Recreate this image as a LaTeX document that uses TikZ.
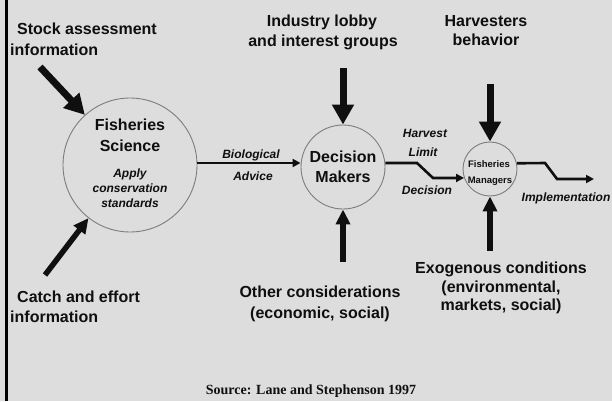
\documentclass[tikz,border=0pt]{standalone}
\usepackage{fontspec}
\setmainfont{Liberation Sans}
\newfontfamily\srcfont{Liberation Serif}
\usetikzlibrary{arrows.meta}
\definecolor{bg}{RGB}{221,221,221}
\definecolor{ringc}{RGB}{125,125,125}
\definecolor{ink}{RGB}{15,15,15}
\begin{document}
\begin{tikzpicture}[x=1pt,y=-1pt,
  ring/.style={circle, draw=ringc, line width=0.9pt, fill=bg, inner sep=0pt},
  lbl/.style={font=\bfseries\fontsize{16}{19}\selectfont, text=ink, inner sep=0pt, anchor=base},
  lblw/.style={lbl, anchor=base west},
  ilbl/.style={font=\bfseries\itshape\fontsize{12}{14}\selectfont, text=ink, inner sep=0pt, anchor=base},
  slbl/.style={font=\bfseries\fontsize{9.5}{11}\selectfont, text=ink, inner sep=0pt, anchor=base},
  bigarrow/.style={draw=ink, line width=7pt, -{Triangle[length=20pt,width=21pt]}},
  midarrow/.style={draw=ink, line width=5.5pt, -{Triangle[length=15pt,width=14pt]}},
  thinarrow/.style={draw=ink, line width=2.6pt, line join=miter, -{Triangle[length=8pt,width=8pt]}}
]
\fill[bg] (0,0) rectangle (612,401);
\useasboundingbox (0,0) rectangle (612,401);
\fill[black] (5,0) rectangle (8,401);

% circles
\node[ring, minimum size=134pt] (FS) at (130,165) {};
\node[ring, minimum size=84pt] (DM) at (343,167) {};
\node[ring, minimum size=54pt] (FM) at (490,169) {};

% circle texts
\node[lbl] (fs1) at (130,130) {Fisheries};
\node[lbl] (fs2) at (130,151) {Science};
\node[ilbl] (fs3) at (130,177) {Apply};
\node[ilbl] (fs4) at (130,192) {conservation};
\node[ilbl] (fs5) at (130,207) {standards};
\node[lbl] (dm1) at (343,162) {Decision};
\node[lbl] (dm2) at (343,182) {Makers};
\node[slbl] (fm1) at (489,167) {Fisheries};
\node[slbl] (fm2) at (490,183) {Managers};

% outer labels
\node[lblw] (sa1) at (17,35) {Stock assessment};
\node[lblw] (sa2) at (10,56) {information};
\node[lblw] (ce1) at (17,302) {Catch and effort};
\node[lblw] (ce2) at (10,322) {information};
\node[lbl] (il1) at (322,27) {Industry lobby};
\node[lbl] (il2) at (323,47) {and interest groups};
\node[lbl] (hb1) at (486,27) {Harvesters};
\node[lbl] (hb2) at (486,46) {behavior};
\node[lbl] (oc1) at (320,297) {Other considerations};
\node[lbl] (oc2) at (320,318) {(economic, social)};
\node[lbl] (ex1) at (501,273) {Exogenous conditions};
\node[lbl] (ex2) at (501,292) {(environmental,};
\node[lbl] (ex3) at (501,310) {markets, social)};

% connector labels
\node[ilbl] (ba1) at (251,158) {Biological};
\node[ilbl] (ba2) at (253,180) {Advice};
\node[ilbl] (hl1) at (425,137) {Harvest};
\node[ilbl] (hl2) at (423,156) {Limit};
\node[ilbl] (hl3) at (427,194) {Decision};
\node[ilbl] (im1) at (566,201) {Implementation};

\node[font=\srcfont\bfseries\fontsize{14}{16}\selectfont, text=ink, inner sep=0pt, anchor=base] (src) at (311,394) {Source: Lane and Stephenson 1997};

% arrow tails
\coordinate (saT) at (40,67);
\coordinate (ceT) at (45,275);
\coordinate (ilT) at (343,68);
\coordinate (ocT) at (343,262);
\coordinate (hbT) at (490,84);
\coordinate (exT) at (490,251);
\coordinate (imE) at (594,179);

% input arrows
\draw[bigarrow] (saT) -- (FS.132);
\draw[midarrow] (ceT) -- (FS.232);
\draw[bigarrow] (ilT) -- (DM.north);
\draw[midarrow] (ocT) -- (DM.south);
\draw[bigarrow] (hbT) -- (FM.north);
\draw[midarrow] (exT) -- (FM.south);

% flow arrows
\draw[thinarrow] (FS.east |- 0,163) -- (DM.west |- 0,163);
\draw[thinarrow] (DM.east |- 0,163) -- (417,163) -- (433,178) -- (FM.199.5);
\draw[thinarrow] (FM.12.8) -- (545,163) -- (557,179) -- (imE);
\end{tikzpicture}
\end{document}
